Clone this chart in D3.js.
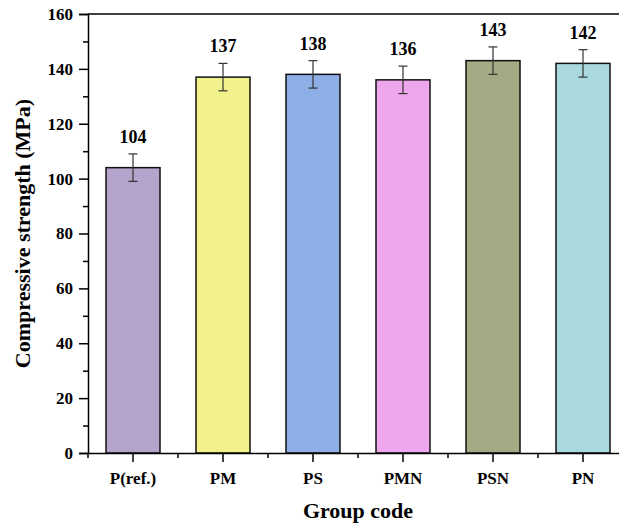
<!DOCTYPE html>
<html>
<head>
<meta charset="utf-8">
<script src="https://cdn.jsdelivr.net/npm/d3@7"></script>
<style>
  body { margin: 0; background: #fff; }
  svg { display: block; }
</style>
</head>
<body>
<svg id="chart" width="619" height="526"></svg>
<script>
const groups = ["P(ref.)", "PM", "PS", "PMN", "PSN", "PN"];
const strength = [104, 137, 138, 136, 143, 142];
const errors = [5, 5, 5, 5, 5, 5];
const colors = ["#b4a3cb", "#f2f28c", "#8eaee6", "#eea6ec", "#a5aa84", "#a9d9df"];
const yTicks = [0, 20, 40, 60, 80, 100, 120, 140, 160];

const FONT = "'Liberation Serif', 'Times New Roman', 'DejaVu Serif', serif";
const margin = { left: 88, top: 14 };
const plotW = 540, plotH = 439;

const svg = d3.select("#chart")
  .attr("font-family", FONT)
  .attr("font-weight", "bold");
const g = svg.append("g").attr("transform", `translate(${margin.left},${margin.top})`);

const x = d3.scaleBand().domain(groups).range([0, plotW]).paddingInner(0.4).paddingOuter(0.2);
const y = d3.scaleLinear().domain([0, 160]).range([plotH, 0]);

// bars
g.selectAll(".bar")
  .data(groups)
  .enter()
  .append("rect")
  .attr("class", "bar")
  .attr("x", (d) => x(d))
  .attr("y", (d, i) => y(strength[i]))
  .attr("width", x.bandwidth())
  .attr("height", (d, i) => y(0) - y(strength[i]))
  .attr("fill", (d, i) => colors[i])
  .attr("stroke", "#111")
  .attr("stroke-width", 1.5);

// error bars
const eb = g.selectAll(".err").data(groups).enter().append("g")
  .attr("class", "err")
  .attr("stroke", "#333")
  .attr("stroke-width", 1.2);
eb.append("line")
  .attr("x1", (d) => x(d) + x.bandwidth() / 2)
  .attr("x2", (d) => x(d) + x.bandwidth() / 2)
  .attr("y1", (d, i) => y(strength[i] + errors[i]))
  .attr("y2", (d, i) => y(strength[i] - errors[i]));
[1, -1].forEach((s) => {
  eb.append("line")
    .attr("x1", (d) => x(d) + x.bandwidth() / 2 - 4.5)
    .attr("x2", (d) => x(d) + x.bandwidth() / 2 + 4.5)
    .attr("y1", (d, i) => y(strength[i] + s * errors[i]))
    .attr("y2", (d, i) => y(strength[i] + s * errors[i]));
});

// value labels
g.selectAll(".val")
  .data(groups)
  .enter()
  .append("text")
  .attr("class", "val")
  .attr("x", (d) => x(d) + x.bandwidth() / 2)
  .attr("y", (d, i) => y(strength[i] + errors[i]) - 11)
  .attr("text-anchor", "middle")
  .attr("font-size", 18)
  .text((d, i) => strength[i]);

// frame top/right
g.append("line").attr("x1", 0).attr("x2", plotW).attr("y1", 0).attr("y2", 0)
  .attr("stroke", "#000").attr("stroke-width", 1.5);
g.append("line").attr("x1", plotW).attr("x2", plotW).attr("y1", 0).attr("y2", plotH)
  .attr("stroke", "#000").attr("stroke-width", 1.5);

// y axis
const yAxis = g.append("g")
  .call(d3.axisLeft(y).tickValues(yTicks).tickSize(9).tickPadding(6).tickFormat(d3.format("d")))
  .attr("font-family", FONT)
  .attr("font-size", 17);
yAxis.select(".domain").attr("stroke-width", 1.5);
yAxis.selectAll(".tick line").attr("stroke-width", 1.5);
g.append("g")
  .call(d3.axisLeft(y).tickValues(d3.range(10, 160, 20)).tickSize(5).tickFormat(""))
  .call((a) => a.select(".domain").remove())
  .selectAll(".tick line").attr("stroke-width", 1.5);

// x axis
const xAxis = g.append("g").attr("transform", `translate(0,${plotH})`)
  .call(d3.axisBottom(x).tickSize(9).tickPadding(10).tickSizeOuter(0))
  .attr("font-family", FONT)
  .attr("font-size", 17);
xAxis.select(".domain").attr("stroke-width", 1.5);
xAxis.selectAll(".tick line").attr("stroke-width", 1.5);
const step = x.step();
g.append("g").attr("transform", `translate(0,${plotH})`)
  .selectAll("line")
  .data(d3.range(groups.length + 1))
  .enter()
  .append("line")
  .attr("x1", (i) => i * step).attr("x2", (i) => i * step)
  .attr("y1", 0).attr("y2", 5)
  .attr("stroke", "#000").attr("stroke-width", 1.5);

// axis titles
svg.append("text")
  .attr("x", margin.left + plotW / 2)
  .attr("y", 518)
  .attr("text-anchor", "middle")
  .attr("font-size", 22)
  .text("Group code");
svg.append("text")
  .attr("transform", `translate(30,${margin.top + plotH / 2}) rotate(-90)`)
  .attr("text-anchor", "middle")
  .attr("font-size", 22)
  .text("Compressive strength (MPa)");
</script>
</body>
</html>
